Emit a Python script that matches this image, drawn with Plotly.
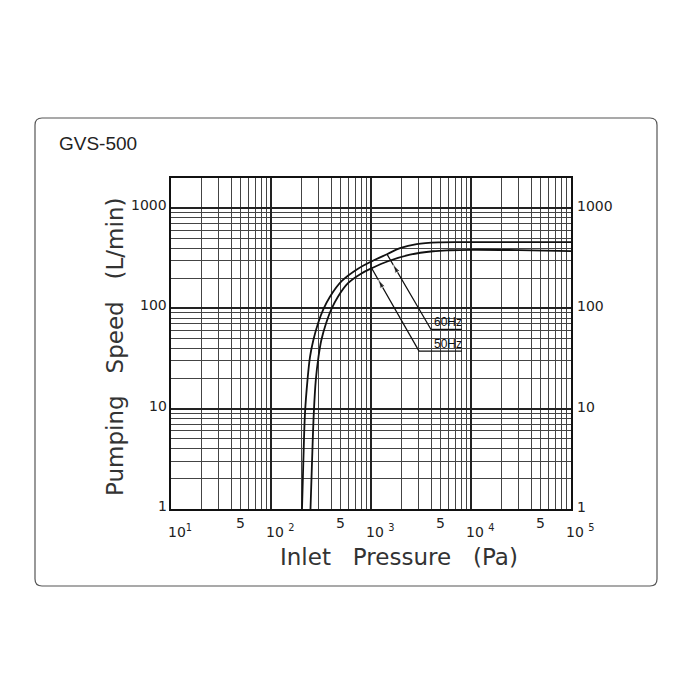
import numpy as np
import plotly.graph_objects as go

# pumping speed curves
pressure_60hz = [204.2, 210.4, 218.8, 231.7, 245.5, 264.9, 295.1, 334.2, 387.3, 508.2, 741.3, 1096, 1445,
                 1950, 2864, 4898, 10000, 100000]
speed_60hz = [1, 2.87, 9.04, 19.3, 32.9, 48.2, 70.8, 98.2, 130, 186.6, 248.5, 305.5, 346.7,
              398, 438, 456, 458, 458]

pressure_50hz = [248.3, 257, 267.9, 280.5, 298.5, 318.4, 354.8, 401.8, 465.6, 588.8, 794.3, 1016, 1479,
                 2455, 4169, 6166, 10000, 30000, 100000]
speed_50hz = [1, 2.87, 9.04, 19.3, 32.9, 48.2, 70.8, 98.2, 130, 178.2, 221.7, 251.3, 295,
              342.7, 371.5, 380, 384, 381, 372]

x_tick_vals = [10, 50, 100, 500, 1000, 5000, 10000, 50000, 100000]
x_tick_text = ["10<sup>1</sup>", "5", "10 <sup>2</sup>", "5", "10 <sup>3</sup>", "5",
               "10 <sup>4</sup>", "5", "10 <sup>5</sup>"]
y_tick_vals = [1, 10, 100, 1000]
y_tick_text = ["1", "10", "100", "1000"]

# leader lines for the callouts (pressure, speed): curve point, bend, end of underline
leader_60_p = [10 ** 3.16, 10 ** 3.60, 10 ** 3.91]
leader_60_s = [10 ** 2.540, 10 ** 1.790, 10 ** 1.790]
leader_50_p = [10 ** 3.007, 10 ** 3.48, 10 ** 3.91]
leader_50_s = [10 ** 2.400, 10 ** 1.574, 10 ** 1.574]

W, H = 700, 700
# the page adds an 8px body margin, so the figure margins are 8px smaller
L, R, T, B = 163, 137, 170, 199
PW, PH = W - L - R, H - T - B
PAGE_L, PAGE_B = 171, 509


def px(x):
    return (x - PAGE_L) / PW


def py(y):
    return (PAGE_B - y) / PH


fig = go.Figure()

for p, s in [(pressure_60hz, speed_60hz), (pressure_50hz, speed_50hz)]:
    fig.add_trace(go.Scatter(
        x=p, y=s, mode="lines",
        line=dict(color="#111", width=1.8, shape="spline", smoothing=1.0),
        showlegend=False, hoverinfo="skip",
    ))

for p, s in [(leader_60_p, leader_60_s), (leader_50_p, leader_50_s)]:
    fig.add_trace(go.Scatter(
        x=p, y=s, mode="lines", line=dict(color="#111", width=1.3),
        showlegend=False, hoverinfo="skip",
    ))
    # arrowhead a little way down the leader, pointing at the curve
    lp, ls = np.log10(p[:2]), np.log10(s[:2])
    head = (lp[0] + 0.14 * (lp[1] - lp[0]), ls[0] + 0.14 * (ls[1] - ls[0]))
    tail = (lp[0] + 0.4 * (lp[1] - lp[0]), ls[0] + 0.4 * (ls[1] - ls[0]))
    fig.add_trace(go.Scatter(
        x=[10 ** tail[0], 10 ** head[0]], y=[10 ** tail[1], 10 ** head[1]], mode="markers",
        marker=dict(symbol="arrow", size=[0, 9], angleref="previous", color="#111"),
        showlegend=False, hoverinfo="skip",
    ))

# white label boxes over the grid
fig.add_shape(type="rect", xref="paper", yref="paper", x0=px(430), x1=px(465), y0=py(332.5), y1=py(313),
              fillcolor="white", line_width=0, layer="between")
fig.add_shape(type="rect", xref="paper", yref="paper", x0=px(419.5), x1=px(465), y0=py(353), y1=py(337.5),
              fillcolor="white", line_width=0, layer="between")

label_font = dict(family="Liberation Sans", size=12, color="#111")
fig.add_annotation(x=px(432), y=py(321.5), xref="paper", yref="paper", text="60Hz",
                   xanchor="left", yanchor="middle", showarrow=False, font=label_font)
fig.add_annotation(x=px(432), y=py(343.5), xref="paper", yref="paper", text="50Hz",
                   xanchor="left", yanchor="middle", showarrow=False, font=label_font)

# tick labels
tick_font = dict(family="DejaVu Sans", size=14, color="#222")
for v, t in zip(x_tick_vals, x_tick_text):
    if t == "5":
        fig.add_annotation(x=np.log10(v), y=py(523), xref="x", yref="paper", text=t,
                           xanchor="center", yanchor="middle", showarrow=False, font=tick_font)
    else:
        fig.add_annotation(x=np.log10(v), y=py(531), xref="x", yref="paper", text=t,
                           xanchor="center", yanchor="middle", showarrow=False, font=tick_font,
                           xshift=9)
for v, t in zip(y_tick_vals, y_tick_text):
    fig.add_annotation(x=0, y=np.log10(v), xref="paper", yref="y", text=t, showarrow=False,
                       xanchor="right", yanchor="middle", xshift=-2, yshift=3, font=tick_font)
    fig.add_annotation(x=1, y=np.log10(v), xref="paper", yref="y", text=t, showarrow=False,
                       xanchor="left", yanchor="middle", xshift=4, yshift=2, font=tick_font)

title_font = dict(family="DejaVu Sans", size=23, color="#333")
fig.add_annotation(x=px(399), y=py(557), xref="paper", yref="paper",
                   text="Inlet   Pressure   (Pa)", xanchor="center", yanchor="middle",
                   showarrow=False, font=title_font)
fig.add_annotation(x=px(115), y=py(347), xref="paper", yref="paper",
                   text="Pumping   Speed   (L/min)", xanchor="center", yanchor="middle",
                   showarrow=False, font=title_font, textangle=-90)
fig.add_annotation(x=px(57), y=py(143), xref="paper", yref="paper", xanchor="left", yanchor="middle",
                   text="GVS-500", showarrow=False,
                   font=dict(family="Liberation Sans", size=19, color="#222"))

# rounded outer frame (page pixel corners)
x0, x1, y0, y1, r = 35, 657, 118, 586, 7
rx, ry = r / PW, r / PH
path = (f"M {px(x0 + r)},{py(y0)} L {px(x1 - r)},{py(y0)} "
        f"Q {px(x1)},{py(y0)} {px(x1)},{py(y0) - ry} "
        f"L {px(x1)},{py(y1) + ry} Q {px(x1)},{py(y1)} {px(x1) - rx},{py(y1)} "
        f"L {px(x0) + rx},{py(y1)} Q {px(x0)},{py(y1)} {px(x0)},{py(y1) + ry} "
        f"L {px(x0)},{py(y0) - ry} Q {px(x0)},{py(y0)} {px(x0) + rx},{py(y0)} Z")
fig.add_shape(type="path", path=path, xref="paper", yref="paper",
              line=dict(color="#555", width=1.2))

axis_common = dict(
    type="log", showline=True, linecolor="#111", linewidth=1.6, mirror=True,
    showgrid=True, gridcolor="#222", gridwidth=1.8, showticklabels=False, ticks="",
    zeroline=False,
    minor=dict(dtick="D1", showgrid=True, gridcolor="#444", gridwidth=0.9, ticks=""),
)
fig.update_xaxes(range=[1, 5], tickvals=[10, 100, 1000, 10000, 100000], **axis_common)
fig.update_yaxes(range=[0, 3.3], tickvals=y_tick_vals, **axis_common)

fig.update_layout(
    width=W, height=H,
    margin=dict(l=L, r=R, t=T, b=B),
    paper_bgcolor="white", plot_bgcolor="white",
    showlegend=False,
)

fig.write_html("out.html")
